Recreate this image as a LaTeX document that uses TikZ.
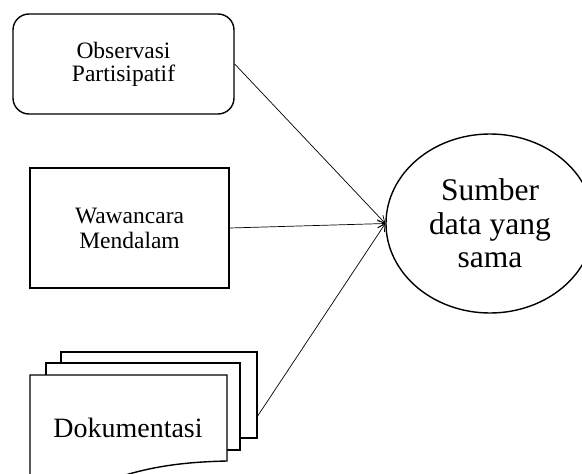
\documentclass[tikz,border=0pt]{standalone}
\usepackage{fontspec}
\setmainfont{Liberation Serif}
\usetikzlibrary{shapes.geometric,arrows.meta}
\tikzset{
  shape line/.style={draw=black, line width=1.4pt, fill=white},
  conn/.style={draw=black, line width=0.7pt, -{Straight Barb[length=7pt,width=8pt]}},
}
\begin{document}
\begin{tikzpicture}[x=1pt,y=-1pt]
\useasboundingbox (0,0) rectangle (582,474);
\clip (0,0) rectangle (582,474);
% rounded box
\node[shape line, rounded corners=16pt, minimum width=221pt, minimum height=100pt, inner sep=0pt, align=center,
  font=\fontsize{23.5}{23}\selectfont] (obs) at (123.5,64) {Observasi\\Partisipatif};
% rectangle
\node[shape line, minimum width=199pt, minimum height=120pt, inner sep=0pt, align=center,
  font=\fontsize{23.5}{25}\selectfont] (waw) at (129.5,228) {Wawancara\\Mendalam};
% document stack
\draw[shape line] (61,352) rectangle (257,438);
\draw[shape line] (46,363) rectangle (240,450);
\draw[shape line] (30,490) -- (30,375) -- (227,375) -- (227,461)
  .. controls (185,462) and (150,466) .. (110,480) -- (100,490);
\node[font=\fontsize{28}{30}\selectfont, anchor=base] (doc) at (128,437) {Dokumentasi};
\coordinate (docout) at (257,417);
% ellipse
\node[ellipse, draw=black, line width=1.4pt, minimum width=208pt, minimum height=179pt, inner sep=0pt, align=center,
  font=\fontsize{31.5}{33.5}\selectfont] (src) at (490,223.5) {Sumber\\data yang\\sama};
% connectors
\draw[conn] (obs.east) -- (src.west);
\draw[conn] (waw.east) -- (src.west);
\draw[conn] (docout) -- (src.west);
\end{tikzpicture}
\end{document}
